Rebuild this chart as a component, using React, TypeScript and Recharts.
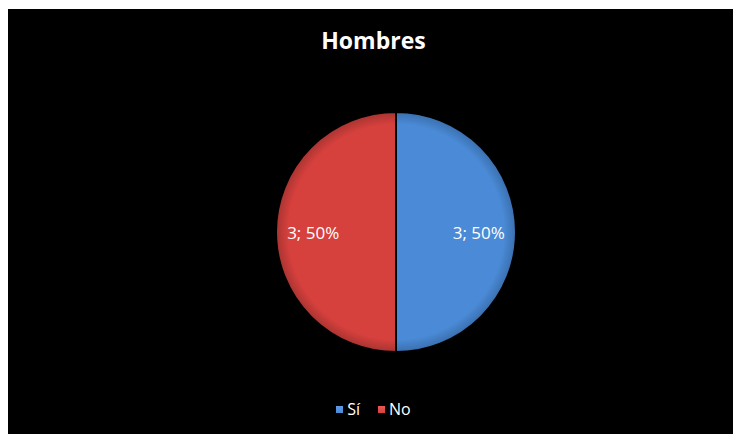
import React from "react";
import { PieChart, Pie, Cell, Legend } from "recharts";

const categories = ["Sí", "No"];
const values = [3, 3];
const percents = ["50%", "50%"];
const colors = ["#4a8ad6", "#d6403d"];
const darkColors = ["#3a6fae", "#a83431"];
const lightColors = ["#5b9be6", "#e85a56"];

const data = categories.map((name, i) => ({ name, value: values[i], pct: percents[i] }));

const RADIAN = Math.PI / 180;
const CX = 388;
const CY = 223;
const R = 120;

const renderLabel = (props: any) => {
  const { cx, cy, midAngle, outerRadius, index } = props;
  const r = outerRadius * 0.69;
  const x = cx + r * Math.cos(-midAngle * RADIAN);
  const y = cy + r * Math.sin(-midAngle * RADIAN);
  return (
    <text
      x={x}
      y={y}
      fill="#ffffff"
      textAnchor="middle"
      dominantBaseline="central"
      fontSize={17}
      fontFamily="'Open Sans', sans-serif"
    >
      {`${data[index].value}; ${data[index].pct}`}
    </text>
  );
};

const renderLegend = () => (
  <div
    style={{
      display: "flex",
      justifyContent: "center",
      alignItems: "center",
      gap: 18,
      fontFamily: "'Open Sans', sans-serif",
      fontSize: 16,
      color: "#ffffff",
      paddingLeft: 6,
    }}
  >
    {data.map((d, i) => (
      <div key={d.name} style={{ display: "flex", alignItems: "center", gap: 4 }}>
        <span
          style={{
            display: "inline-block",
            width: 7,
            height: 7,
            background: `linear-gradient(${lightColors[i]}, ${colors[i]})`,
          }}
        />
        <span>{d.name}</span>
      </div>
    ))}
  </div>
);

export default function App() {
  return (
    <div
      style={{
        position: "fixed",
        left: 8,
        top: 9,
        width: 725,
        height: 425,
        background: "#000000",
      }}
    >
      <div
        style={{
          position: "absolute",
          left: 6,
          right: 0,
          top: 17,
          textAlign: "center",
          color: "#ffffff",
          fontFamily: "'Open Sans', sans-serif",
          fontWeight: 700,
          fontSize: 23,
          lineHeight: "28px",
        }}
      >
        Hombres
      </div>
      <PieChart width={725} height={425} margin={{ top: 0, right: 0, bottom: 0, left: 0 }}>
        <defs>
          {colors.map((c, i) => (
            <radialGradient
              key={i}
              id={`grad${i}`}
              gradientUnits="userSpaceOnUse"
              cx={CX}
              cy={CY}
              r={R}
            >
              <stop offset="0%" stopColor={colors[i]} />
              <stop offset="90%" stopColor={colors[i]} />
              <stop offset="100%" stopColor={darkColors[i]} />
            </radialGradient>
          ))}
        </defs>
        <Pie
          data={data}
          dataKey="value"
          nameKey="name"
          cx={CX}
          cy={CY}
          outerRadius={R}
          startAngle={90}
          endAngle={-270}
          stroke="#000000"
          strokeWidth={2}
          label={renderLabel}
          labelLine={false}
          isAnimationActive={false}
        >
          {data.map((d, i) => (
            <Cell key={d.name} fill={`url(#grad${i})`} />
          ))}
        </Pie>
        <Legend
          verticalAlign="bottom"
          content={renderLegend}
          wrapperStyle={{ bottom: 14 }}
        />
      </PieChart>
    </div>
  );
}
